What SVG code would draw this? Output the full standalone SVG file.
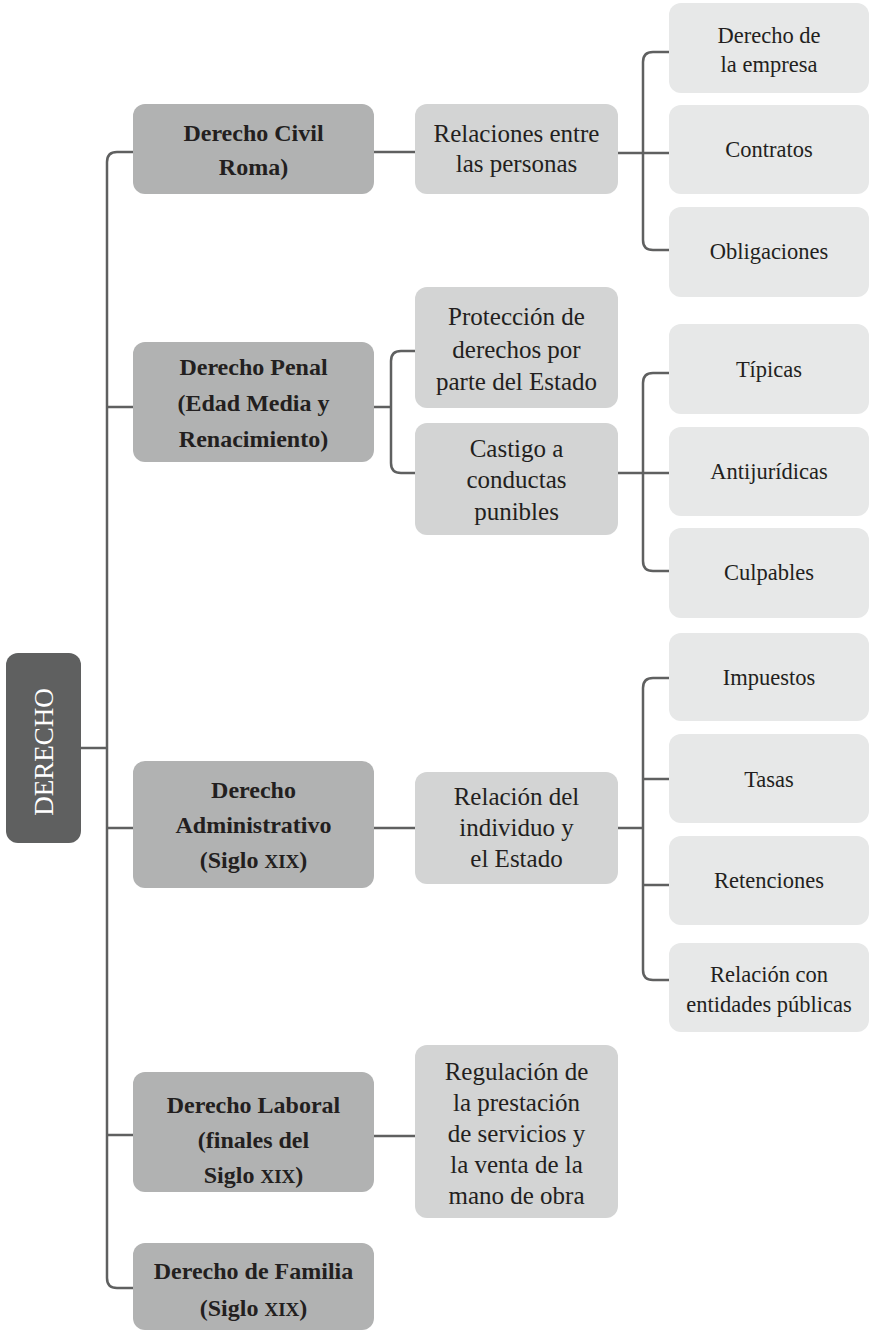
<svg xmlns="http://www.w3.org/2000/svg" width="870" height="1332" viewBox="0 0 870 1332">
<style>
text{fill:#231f20;text-anchor:middle}
.root{fill:#5f6060}
.l1{fill:#b1b2b2}
.l2{fill:#d3d4d4}
.l3{fill:#e7e8e8}
.t0{font-size:27px;fill:#ffffff}
.t1{font-size:24px;font-weight:bold}
.t2{font-size:25px}
.t3{font-size:22.5px}
.sc{font-size:19px}
.c{fill:none;stroke:#5f6060;stroke-width:2.5}
</style>
<rect width="870" height="1332" fill="#ffffff"/>
<g id="connectors">
<path class="c" d="M81,748 H107"/>
<path class="c" d="M133,152 H117 Q107,152 107,162 V1278 Q107,1288 117,1288 H133"/>
<path class="c" d="M107,407 H133 M107,828 H133 M107,1135 H133"/>
<path class="c" d="M374,152 H415"/>
<path class="c" d="M618,153 H669"/>
<path class="c" d="M669,52 H653 Q643,52 643,62 V240 Q643,250 653,250 H669"/>
<path class="c" d="M374,407 H391"/>
<path class="c" d="M415,351 H401 Q391,351 391,361 V463 Q391,473 401,473 H415"/>
<path class="c" d="M618,473 H669"/>
<path class="c" d="M669,373 H653 Q643,373 643,383 V561 Q643,571 653,571 H669"/>
<path class="c" d="M374,828 H415"/>
<path class="c" d="M618,828 H643"/>
<path class="c" d="M669,678 H653 Q643,678 643,688 V970 Q643,980 653,980 H669"/>
<path class="c" d="M643,779 H669 M643,885 H669"/>
<path class="c" d="M374,1136 H415"/>
</g>
<g id="nodes" font-family="'Liberation Serif', 'DejaVu Serif', serif">
<g id="derecho">
<rect class="root" x="6" y="653" width="75" height="190" rx="12"/>
<text class="t0" transform="translate(53,752) rotate(-90)">DERECHO</text>
</g>
<g id="civil">
<rect class="l1" x="133" y="104" width="241" height="90" rx="12"/>
<text class="t1" x="253.5" y="141">Derecho Civil</text>
<text class="t1" x="253.5" y="175">Roma)</text>
</g>
<g id="penal">
<rect class="l1" x="133" y="342" width="241" height="120" rx="12"/>
<text class="t1" x="253.5" y="375">Derecho Penal</text>
<text class="t1" x="253.5" y="411">(Edad Media y</text>
<text class="t1" x="253.5" y="447">Renacimiento)</text>
</g>
<g id="administrativo">
<rect class="l1" x="133" y="761" width="241" height="127" rx="12"/>
<text class="t1" x="253.5" y="798">Derecho</text>
<text class="t1" x="253.5" y="833">Administrativo</text>
<text class="t1" x="253.5" y="868">(Siglo <tspan class="sc">XIX</tspan>)</text>
</g>
<g id="laboral">
<rect class="l1" x="133" y="1072" width="241" height="120" rx="12"/>
<text class="t1" x="253.5" y="1113">Derecho Laboral</text>
<text class="t1" x="253.5" y="1148">(finales del</text>
<text class="t1" x="253.5" y="1183">Siglo <tspan class="sc">XIX</tspan>)</text>
</g>
<g id="familia">
<rect class="l1" x="133" y="1243" width="241" height="87" rx="12"/>
<text class="t1" x="253.5" y="1279">Derecho de Familia</text>
<text class="t1" x="253.5" y="1316">(Siglo <tspan class="sc">XIX</tspan>)</text>
</g>
<g id="relaciones">
<rect class="l2" x="415" y="104" width="203" height="90" rx="12"/>
<text class="t2" x="516.5" y="142">Relaciones entre</text>
<text class="t2" x="516.5" y="172">las personas</text>
</g>
<g id="proteccion">
<rect class="l2" x="415" y="287" width="203" height="121" rx="12"/>
<text class="t2" x="516.5" y="325">Protección de</text>
<text class="t2" x="516.5" y="358">derechos por</text>
<text class="t2" x="516.5" y="390">parte del Estado</text>
</g>
<g id="castigo">
<rect class="l2" x="415" y="423" width="203" height="112" rx="12"/>
<text class="t2" x="516.5" y="457">Castigo a</text>
<text class="t2" x="516.5" y="488">conductas</text>
<text class="t2" x="516.5" y="520">punibles</text>
</g>
<g id="relacion-individuo">
<rect class="l2" x="415" y="772" width="203" height="112" rx="12"/>
<text class="t2" x="516.5" y="805">Relación del</text>
<text class="t2" x="516.5" y="836">individuo y</text>
<text class="t2" x="516.5" y="867">el Estado</text>
</g>
<g id="regulacion">
<rect class="l2" x="415" y="1045" width="203" height="173" rx="12"/>
<text class="t2" x="516.5" y="1080">Regulación de</text>
<text class="t2" x="516.5" y="1111">la prestación</text>
<text class="t2" x="516.5" y="1142">de servicios y</text>
<text class="t2" x="516.5" y="1173">la venta de la</text>
<text class="t2" x="516.5" y="1204">mano de obra</text>
</g>
<g id="empresa">
<rect class="l3" x="669" y="3" width="200" height="90" rx="12"/>
<text class="t3" x="769" y="43">Derecho de</text>
<text class="t3" x="769" y="72">la empresa</text>
</g>
<g id="contratos">
<rect class="l3" x="669" y="105" width="200" height="89" rx="12"/>
<text class="t3" x="769" y="157">Contratos</text>
</g>
<g id="obligaciones">
<rect class="l3" x="669" y="207" width="200" height="90" rx="12"/>
<text class="t3" x="769" y="259">Obligaciones</text>
</g>
<g id="tipicas">
<rect class="l3" x="669" y="324" width="200" height="90" rx="12"/>
<text class="t3" x="769" y="377">Típicas</text>
</g>
<g id="antijuridicas">
<rect class="l3" x="669" y="427" width="200" height="89" rx="12"/>
<text class="t3" x="769" y="479">Antijurídicas</text>
</g>
<g id="culpables">
<rect class="l3" x="669" y="528" width="200" height="90" rx="12"/>
<text class="t3" x="769" y="580">Culpables</text>
</g>
<g id="impuestos">
<rect class="l3" x="669" y="633" width="200" height="88" rx="12"/>
<text class="t3" x="769" y="685">Impuestos</text>
</g>
<g id="tasas">
<rect class="l3" x="669" y="734" width="200" height="89" rx="12"/>
<text class="t3" x="769" y="787">Tasas</text>
</g>
<g id="retenciones">
<rect class="l3" x="669" y="836" width="200" height="89" rx="12"/>
<text class="t3" x="769" y="888">Retenciones</text>
</g>
<g id="entidades">
<rect class="l3" x="669" y="943" width="200" height="89" rx="12"/>
<text class="t3" x="769" y="982">Relación con</text>
<text class="t3" x="769" y="1012">entidades públicas</text>
</g>
</g>
</svg>
